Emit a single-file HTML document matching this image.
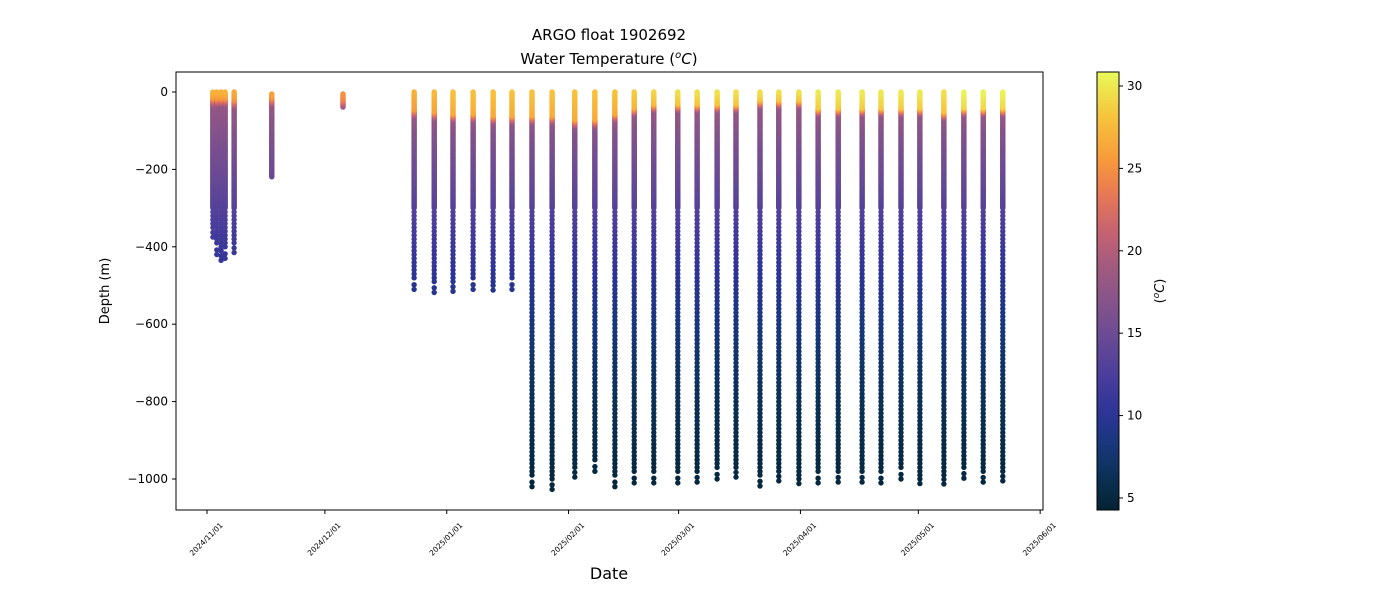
<!DOCTYPE html>
<html><head><meta charset="utf-8"><style>
body{margin:0;background:#fff;width:1400px;height:600px;overflow:hidden}
svg{font-family:"DejaVu Sans","Liberation Sans",sans-serif}
</style></head><body>
<svg id="chart" width="1400" height="600">
<defs></defs>
<text x="609" y="40" text-anchor="middle" font-size="15">ARGO float 1902692</text>
<text x="609" y="64" text-anchor="middle" font-size="15">Water Temperature (<tspan font-style="italic" font-size="10" dy="-6">o</tspan><tspan font-style="italic" dy="6">C</tspan>)</text>
<g id="marks"></g>
<rect x="176" y="72" width="867" height="438" fill="none" stroke="#000" stroke-width="1"/>
<g id="yaxis"></g>
<g id="xaxis"></g>
<text transform="translate(109,291) rotate(-90)" text-anchor="middle" font-size="13">Depth (m)</text>
<text x="609" y="579" text-anchor="middle" font-size="16">Date</text>
<rect id="cbar" x="1097" y="72" width="22" height="438"/>
<rect x="1097" y="72" width="22" height="438" fill="none" stroke="#000"/>
<g id="cbticks"></g>
<text transform="translate(1164,291) rotate(-90)" text-anchor="middle" font-size="13">(<tspan font-style="italic" font-size="9" dy="-5">o</tspan><tspan font-style="italic" dy="5">C</tspan>)</text>
</svg>
<script>
// ---- data ----
const profileDays = [1.5,2.5,3.6,4.6,6.9,16.5,34.6,52.7,57.8,62.6,67.7,72.8,77.6,82.7,87.8,93.6,98.7,103.8,108.7,113.7,119.8,124.7,129.8,134.6,140.7,145.5,150.6,155.5,160.6,166.7,171.5,176.6,181.4,187.5,192.6,197.5,202.5];
const profileMaxDepth = [375,420,435,430,415,220,40,510,518,515,510,512,510,1020,1027,995,980,1020,1010,1010,1010,1008,1000,995,1018,1005,1012,1010,1008,1008,1010,1000,1012,1013,998,1008,1005];
const profileMinDepth = [0,0,0,0,0,5,5,0,0,0,0,0,0,0,0,0,0,0,0,0,0,0,0,0,0,0,0,0,0,0,0,0,0,0,0,0,0];
const surfaceTemp = [27,27,27,27,26.5,26.5,25.5,27,27.5,28,28,28,28,28,28,28,28,28,28.5,29,29.5,29.5,29.5,29.5,29.5,29.5,29.5,30,30,30,30,30,30,29.5,30.5,30.5,30.5];
const mixedLayer = [15,15,15,15,20,15,20,45,50,55,55,60,60,60,60,70,70,55,40,30,30,30,30,30,20,20,20,40,40,40,40,40,40,50,40,40,40];
const refDepth = [0,100,150,200,300,400,500,600,700,800,900,1000,1030];
const refTemp  = [null,16.8,15.8,15,13.2,11.2,9.6,8.3,7.2,6.3,5.6,5.0,4.8];
const yTicks = [0,-200,-400,-600,-800,-1000];
const xTickLabels = ["2024/11/01","2024/12/01","2025/01/01","2025/02/01","2025/03/01","2025/04/01","2025/05/01","2025/06/01"];
const xTickDays = [0,30,61,92,120,151,181,212];
const cbTicks = [5,10,15,20,25,30];
// ---- scales ----
const X = d => 207 + d*3.93;
const Y = v => 92 + (-v)*0.387;
const CMIN=4.27, CMAX=30.85;
const CB = t => 510 - (t-CMIN)/(CMAX-CMIN)*438;
const stops=[[0,[4,35,51]],[0.07,[10,48,82]],[0.15,[24,55,124]],[0.22,[44,52,150]],[0.3,[72,60,156]],[0.38,[100,72,150]],[0.46,[128,82,140]],[0.55,[160,90,128]],[0.63,[196,97,115]],[0.72,[232,120,85]],[0.8,[247,154,58]],[0.9,[247,196,60]],[1,[232,250,91]]];
function cmap(t){let f=Math.max(0,Math.min(1,(t-CMIN)/(CMAX-CMIN)));
 for(let i=1;i<stops.length;i++){if(f<=stops[i][0]){const a=stops[i-1],b=stops[i],u=(f-a[0])/(b[0]-a[0]);
  const c=a[1].map((v,k)=>Math.round(v+(b[1][k]-v)*u));return `rgb(${c})`;}}return 'rgb(232,250,91)';}
function tempAt(i,z){const ts=surfaceTemp[i],ml=mixedLayer[i];
 if(z<=ml) return ts-(z/ml)*1.5;
 const tl=ml+20;
 if(z<=tl) return (ts-1.5)+((z-ml)/20)*(18-(ts-1.5));
 if(z<=100) return 18+((z-tl)/Math.max(1,100-tl))*(refTemp[1]-18);
 for(let k=1;k<refDepth.length-1;k++){if(z<=refDepth[k+1]){const u=(z-refDepth[k])/(refDepth[k+1]-refDepth[k]);return refTemp[k]+u*(refTemp[k+1]-refTemp[k]);}}
 return refTemp[refTemp.length-1];}
const NS='http://www.w3.org/2000/svg';
function mk(tag,attrs,parent){const e=document.createElementNS(NS,tag);for(const k in attrs)e.setAttribute(k,attrs[k]);parent.appendChild(e);return e;}
// ---- marks ----
const g=document.getElementById('marks');
profileDays.forEach((d,i)=>{
 const pg=mk('g',{},g);
 
 
 const depths=[];
 for(let z=profileMinDepth[i];z<=Math.min(300,profileMaxDepth[i]);z+=2)depths.push(z);
 for(let z=310;z<profileMaxDepth[i]-20;z+=10)depths.push(z);
 if(profileMaxDepth[i]>300)depths.push(profileMaxDepth[i]-12,profileMaxDepth[i]);
 depths.reverse().forEach(z=>{
  const c=mk('circle',{cx:X(d).toFixed(1),cy:Y(-z).toFixed(1),r:2.7,fill:cmap(tempAt(i,z))},pg);
  
  
 });
});
// ---- axes ----
const ya=document.getElementById('yaxis');
yTicks.forEach(v=>{const y=Y(v);
 mk('line',{x1:172,x2:176,y1:y,y2:y,stroke:'#000'},ya);
 const t=mk('text',{x:168,y:y+4,'text-anchor':'end','font-size':12},ya);t.textContent=(v<0?'\u2212'+(-v):v);
 
 });
const xa=document.getElementById('xaxis');
xTickDays.forEach((d,i)=>{const x=X(d);
 mk('line',{x1:x,x2:x,y1:510,y2:514,stroke:'#000'},xa);
 const t=mk('text',{transform:`translate(${x+1},${541}) rotate(-45)`,'text-anchor':'middle','font-size':7.5},xa);t.textContent=xTickLabels[i];
 
 });
// ---- colorbar ----
const defs=document.querySelector('defs');
const lg=mk('linearGradient',{id:'cbgrad',x1:0,y1:1,x2:0,y2:0},defs);
for(let k=0;k<=40;k++){const t=CMIN+(CMAX-CMIN)*k/40;mk('stop',{offset:k/40,'stop-color':cmap(t)},lg);}
document.getElementById('cbar').setAttribute('fill','url(#cbgrad)');
const cbt=document.getElementById('cbticks');
cbTicks.forEach(v=>{const y=CB(v);
 mk('line',{x1:1119,x2:1123,y1:y,y2:y,stroke:'#000'},cbt);
 const t=mk('text',{x:1127,y:y+4,'font-size':12},cbt);t.textContent=v;
 
 });
</script>
</body></html>
